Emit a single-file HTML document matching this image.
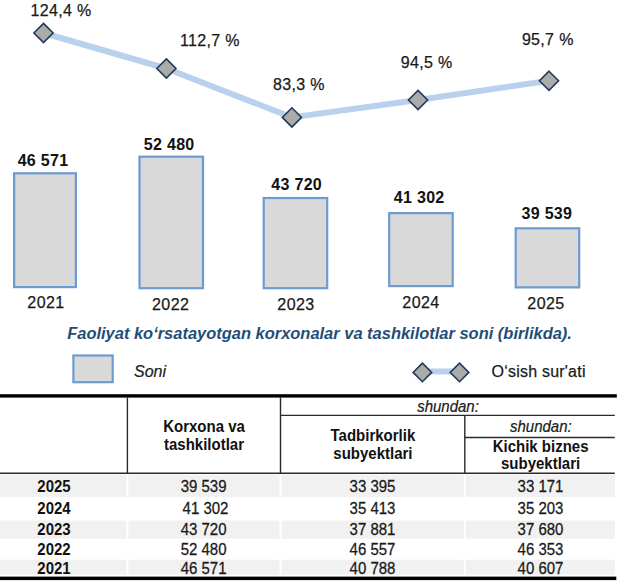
<!DOCTYPE html>
<html>
<head>
<meta charset="utf-8">
<style>
html,body{margin:0;padding:0;background:#fff;width:624px;height:581px;overflow:hidden;}
svg{display:block;}
text{font-family:"Liberation Sans", sans-serif;}
</style>
</head>
<body>
<svg width="624" height="581" viewBox="0 0 624 581">
  <!-- growth line -->
  <polyline points="43.5,33 166.4,68.5 291.9,117.4 418,100 549,80.8" fill="none" stroke="#bad1ed" stroke-width="6" stroke-linejoin="round"/>
  <g fill="#ababab" stroke="#233a5a" stroke-width="1.6">
    <path d="M43.5,23.4 L53.1,33 L43.5,42.6 L33.9,33 Z"/>
    <path d="M166.4,58.9 L176.0,68.5 L166.4,78.1 L156.8,68.5 Z"/>
    <path d="M291.9,107.8 L301.5,117.4 L291.9,127.0 L282.3,117.4 Z"/>
    <path d="M418,90.4 L427.6,100 L418,109.6 L408.4,100 Z"/>
    <path d="M549,71.2 L558.6,80.8 L549,90.4 L539.4,80.8 Z"/>
  </g>
  <g font-size="16" fill="#1a1a1a" stroke="#1a1a1a" stroke-width="0.25" letter-spacing="0.33" text-anchor="middle">
    <text x="61" y="15.5">124,4 %</text>
    <text x="210" y="45.8">112,7 %</text>
    <text x="299" y="89.6">83,3 %</text>
    <text x="426.6" y="67.6">94,5 %</text>
    <text x="547.8" y="44.6">95,7 %</text>
  </g>
  <!-- bars -->
  <g fill="#d9d9d9" stroke="#6b9bd2" stroke-width="2.2">
    <rect x="14.1" y="173.3" width="61.8" height="113.8"/>
    <rect x="139.5" y="156.7" width="63.5" height="131.5"/>
    <rect x="263.7" y="198" width="63.5" height="90.2"/>
    <rect x="389.2" y="213.1" width="63.5" height="73"/>
    <rect x="515.7" y="228.3" width="63.5" height="59.1"/>
  </g>
  <g font-size="16" font-weight="bold" fill="#111" letter-spacing="0.3" text-anchor="middle">
    <text x="43" y="165.6">46 571</text>
    <text x="169.2" y="150">52 480</text>
    <text x="296.7" y="189.6">43 720</text>
    <text x="419.2" y="202.9">41 302</text>
    <text x="546.9" y="218.8">39 539</text>
  </g>
  <g font-size="16" fill="#1a1a1a" stroke="#1a1a1a" stroke-width="0.25" letter-spacing="0.45" text-anchor="middle">
    <text x="46" y="308">2021</text>
    <text x="170.7" y="310">2022</text>
    <text x="296" y="310">2023</text>
    <text x="421" y="308">2024</text>
    <text x="546" y="308.9">2025</text>
  </g>
  <!-- caption -->
  <text x="67.2" y="339.3" font-size="16.47" font-weight="bold" font-style="italic" fill="#1f4e79">Faoliyat ko‘rsatayotgan korxonalar va tashkilotlar soni (birlikda).</text>
  <!-- legend -->
  <rect x="73.4" y="355.5" width="39.3" height="26.7" fill="#d9d9d9" stroke="#6b9bd2" stroke-width="2.2"/>
  <text x="134" y="376.9" font-size="16" font-style="italic" fill="#1a1a1a" stroke="#1a1a1a" stroke-width="0.2">Soni</text>
  <line x1="422.4" y1="371.5" x2="459.5" y2="371.5" stroke="#bad1ed" stroke-width="6"/>
  <g fill="#ababab" stroke="#233a5a" stroke-width="1.6">
    <path d="M422.4,363.1 L431.7,372.4 L422.4,381.7 L413.1,372.4 Z"/>
    <path d="M459.5,363.1 L468.8,372.4 L459.5,381.7 L450.2,372.4 Z"/>
  </g>
  <text x="491.5" y="376.5" font-size="16" fill="#1a1a1a" stroke="#1a1a1a" stroke-width="0.25" letter-spacing="0.22">O‘sish sur'ati</text>

  <!-- table -->
  <g fill="#f1f1f1">
    <rect x="0" y="474.7" width="126.4" height="22.4"/>
    <rect x="128.4" y="474.7" width="151.1" height="22.4"/>
    <rect x="281.5" y="474.7" width="182.3" height="22.4"/>
    <rect x="465.8" y="474.7" width="149" height="22.4"/>
    <rect x="0" y="520.5" width="126.4" height="18.2"/>
    <rect x="128.4" y="520.5" width="151.1" height="18.2"/>
    <rect x="281.5" y="520.5" width="182.3" height="18.2"/>
    <rect x="465.8" y="520.5" width="149" height="18.2"/>
    <rect x="0" y="559.7" width="126.4" height="15"/>
    <rect x="128.4" y="559.7" width="151.1" height="15"/>
    <rect x="281.5" y="559.7" width="182.3" height="15"/>
    <rect x="465.8" y="559.7" width="149" height="15"/>
  </g>
  <rect x="0" y="394.2" width="616.8" height="3.4" fill="#000"/>
  <rect x="0" y="576.6" width="616.3" height="3.5" fill="#000"/>
  <g stroke="#2a2a2a" stroke-width="1.4">
    <line x1="127.4" y1="397.5" x2="127.4" y2="473.6"/>
    <line x1="280.5" y1="397.5" x2="280.5" y2="473.6"/>
    <line x1="464.8" y1="415.4" x2="464.8" y2="473.6"/>
    <line x1="280.5" y1="415.4" x2="614.8" y2="415.4"/>
    <line x1="464.8" y1="437.5" x2="614.8" y2="437.5"/>
    <line x1="0" y1="473.2" x2="614.8" y2="473.2"/>
  </g>
  <g font-size="15" font-weight="bold" fill="#111" text-anchor="middle">
    <text transform="translate(204,431.8) scale(1,1.04)">Korxona va</text>
    <text transform="translate(204,449.5) scale(1,1.04)">tashkilotlar</text>
    <text transform="translate(372.9,441) scale(1,1.04)">Tadbirkorlik</text>
    <text transform="translate(372.9,458.9) scale(1,1.04)">subyektlari</text>
    <text transform="translate(540.6,451.5) scale(1,1.04)">Kichik biznes</text>
    <text transform="translate(540.6,469.1) scale(1,1.04)">subyektlari</text>
  </g>
  <g font-size="15" font-style="italic" fill="#1a1a1a" stroke="#1a1a1a" stroke-width="0.2" text-anchor="middle">
    <text transform="translate(448,411.8) scale(1,1.1)">shundan:</text>
    <text transform="translate(540.8,431.6) scale(1,1.1)">shundan:</text>
  </g>
  <g font-size="15" font-weight="bold" fill="#111" text-anchor="middle">
    <text transform="translate(54,491.7) scale(1,1.1)">2025</text>
    <text transform="translate(54,514.4) scale(1,1.1)">2024</text>
    <text transform="translate(54,535.3) scale(1,1.1)">2023</text>
    <text transform="translate(54,554.9) scale(1,1.1)">2022</text>
    <text transform="translate(54,573.6) scale(1,1.1)">2021</text>
  </g>
  <g font-size="15" fill="#1a1a1a" stroke="#1a1a1a" stroke-width="0.25" text-anchor="middle">
    <text transform="translate(203.6,491.7) scale(1,1.1)">39 539</text>
    <text transform="translate(205.5,514.4) scale(1,1.1)">41 302</text>
    <text transform="translate(203.6,535.3) scale(1,1.1)">43 720</text>
    <text transform="translate(203.6,554.9) scale(1,1.1)">52 480</text>
    <text transform="translate(203.6,573.6) scale(1,1.1)">46 571</text>
    <text transform="translate(372.5,491.7) scale(1,1.1)">33 395</text>
    <text transform="translate(372.5,514.4) scale(1,1.1)">35 413</text>
    <text transform="translate(372.5,535.3) scale(1,1.1)">37 881</text>
    <text transform="translate(372.5,554.9) scale(1,1.1)">46 557</text>
    <text transform="translate(372.5,573.6) scale(1,1.1)">40 788</text>
    <text transform="translate(540.5,491.7) scale(1,1.1)">33 171</text>
    <text transform="translate(540.5,514.4) scale(1,1.1)">35 203</text>
    <text transform="translate(540.5,535.3) scale(1,1.1)">37 680</text>
    <text transform="translate(540.5,554.9) scale(1,1.1)">46 353</text>
    <text transform="translate(540.5,573.6) scale(1,1.1)">40 607</text>
  </g>
</svg>
</body>
</html>
